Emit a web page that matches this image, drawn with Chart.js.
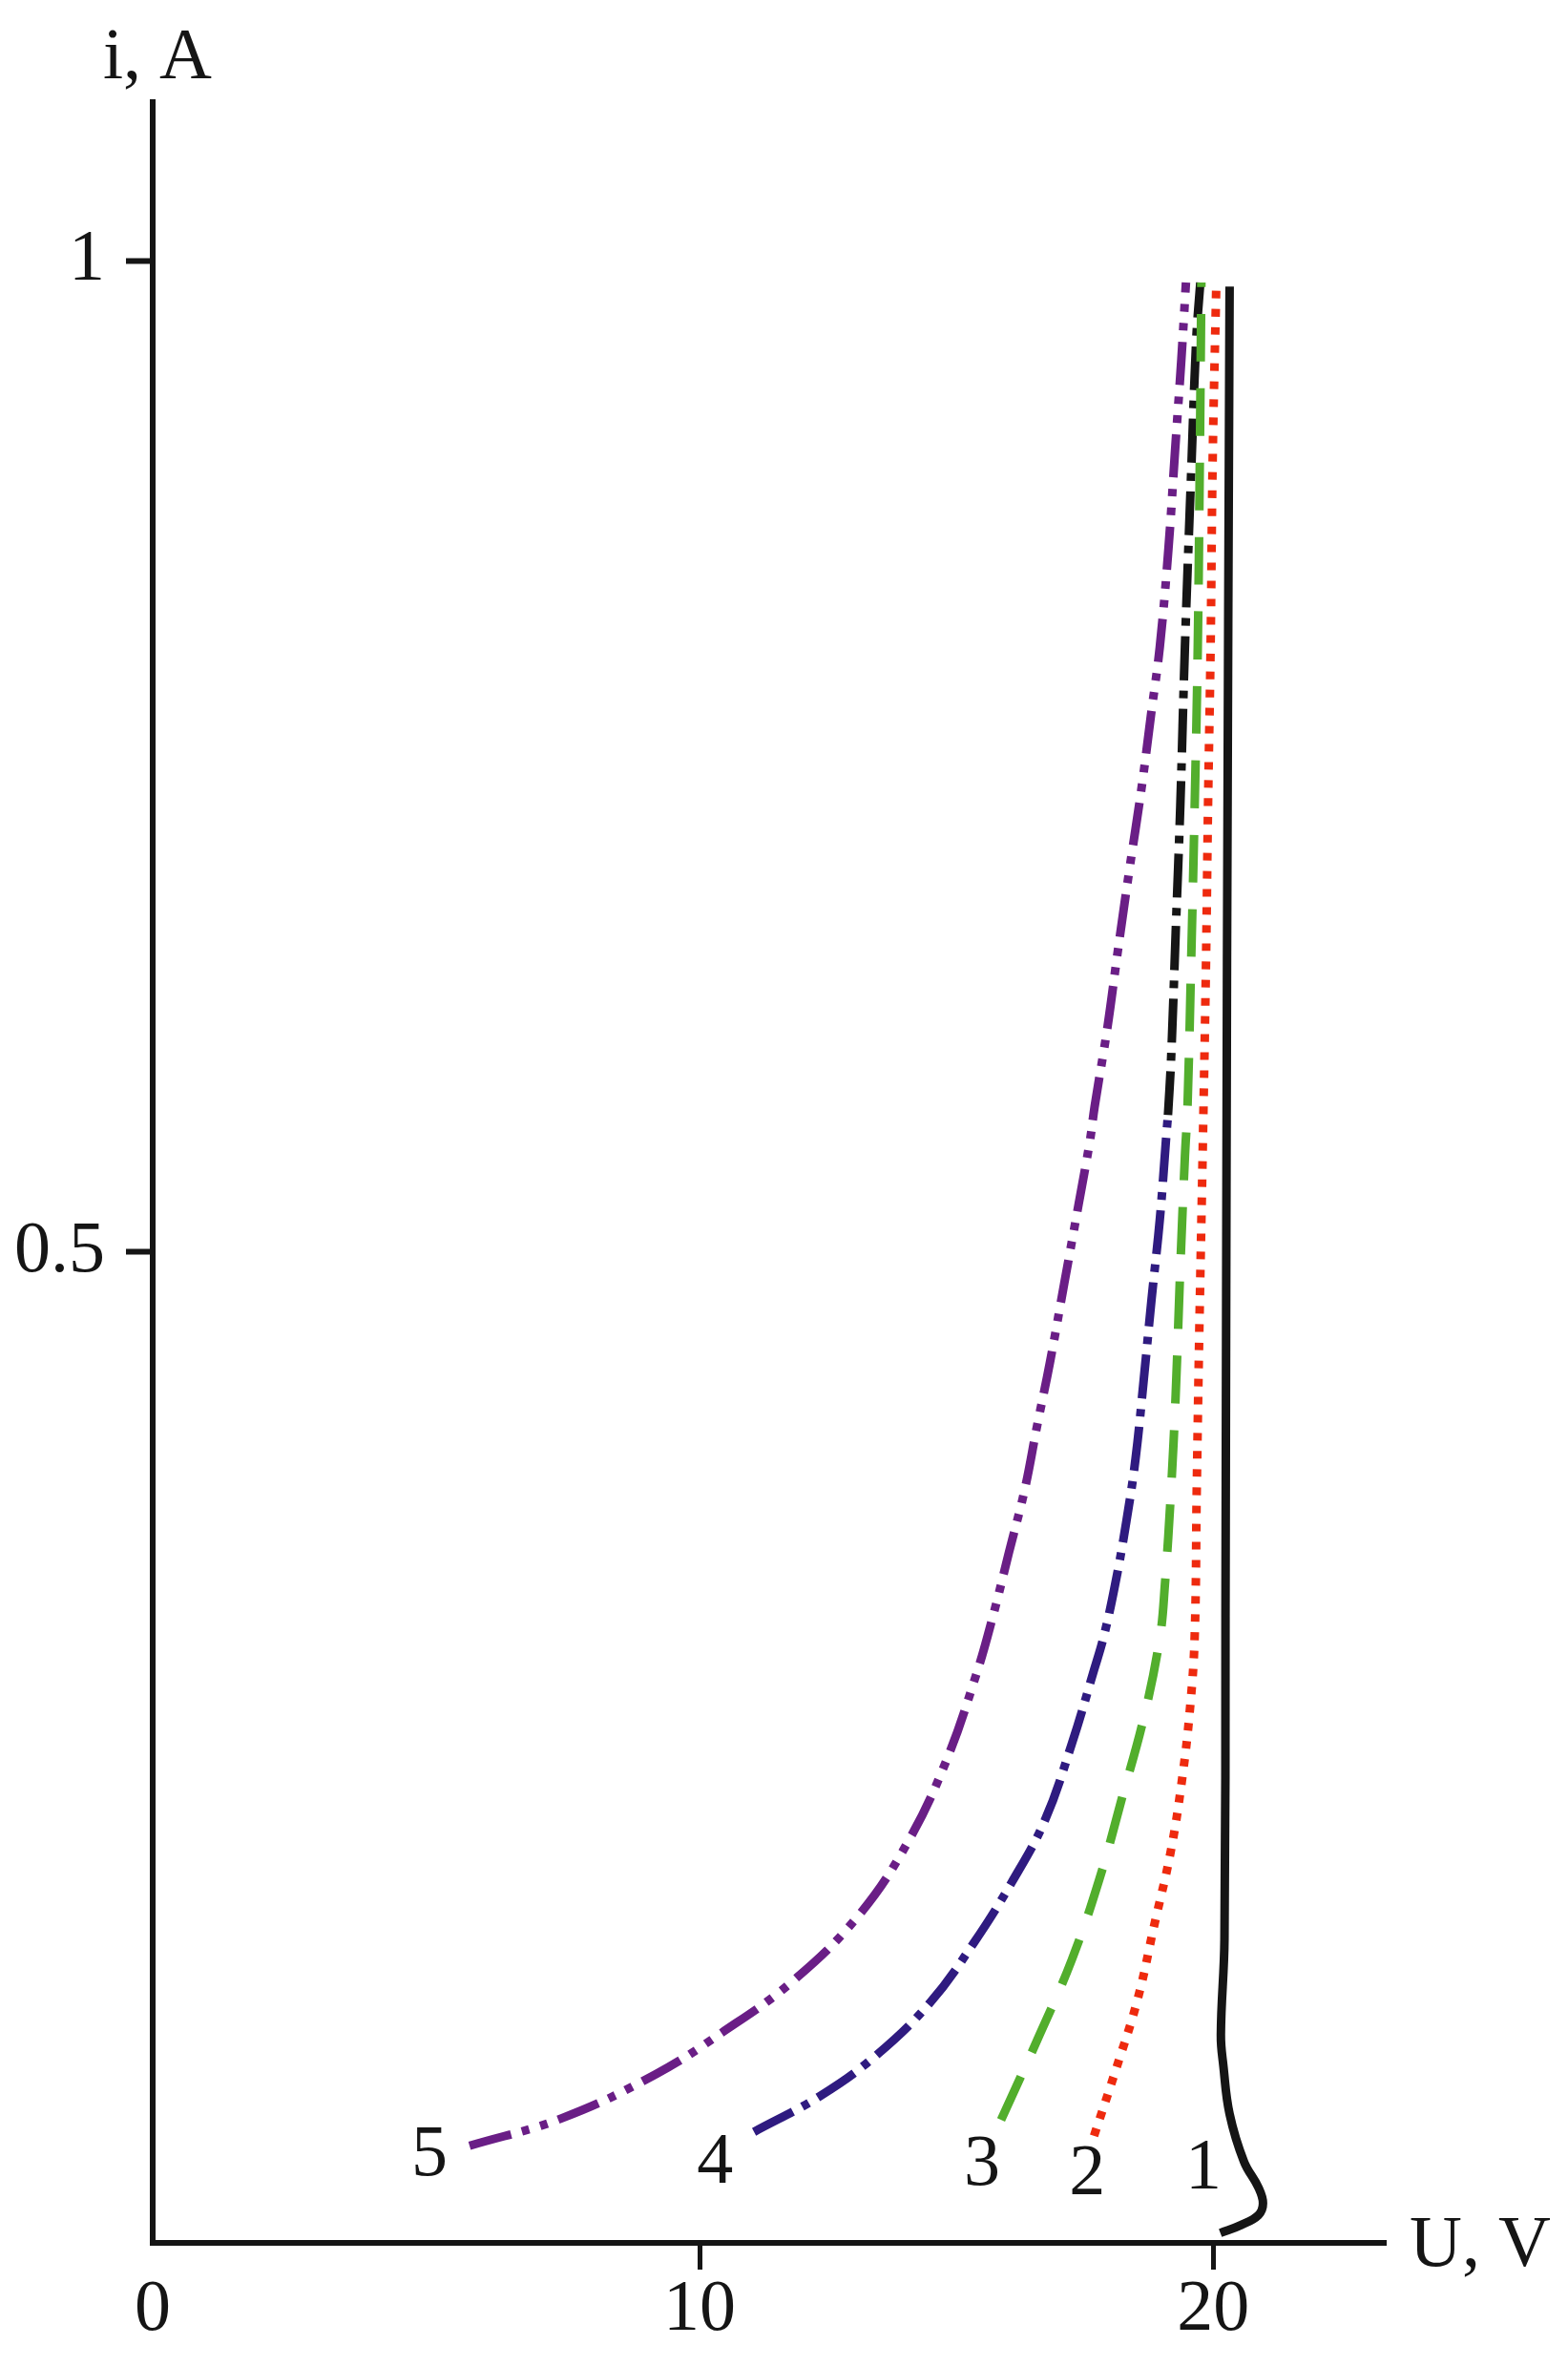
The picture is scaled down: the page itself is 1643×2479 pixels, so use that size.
<!DOCTYPE html>
<html>
<head>
<meta charset="utf-8">
<script src="https://cdn.jsdelivr.net/npm/chart.js@4.4.1/dist/chart.umd.min.js"></script>
<style>
  html, body { margin: 0; padding: 0; background: #fff; }
  #wrap { width: 1643px; height: 2479px; }
</style>
</head>
<body>
<div id="wrap"><canvas id="chart" width="1643" height="2479"></canvas></div>
<script>
// axis ranges (V, A)
const U_MIN = -0.65;
const U_MAX = 23.36;
const I_MIN = 0;
const I_MAX = 1.08;

const uTicks = [U_MIN, 10, 20];
const uTickLabels = ['0', '10', '20'];
const iTicks = [0.5, 1];
const iTickLabels = ['0.5', '1'];

// curve 1 - solid black
const u1 = [20.32, 20.27, 20.24, 20.22, 20.15, 20.20, 20.32, 20.60, 20.88, 20.97, 20.88, 20.54, 20.14];
const i1 = [0.987, 0.650, 0.316, 0.153, 0.105, 0.089, 0.065, 0.041, 0.028, 0.020, 0.014, 0.009, 0.005];

// curve 2 - red dotted
const u2 = [17.68, 18.10, 18.53, 18.85, 19.17, 19.39, 19.55, 19.64, 19.68, 19.73, 19.80, 19.86, 19.90, 19.95, 19.99, 20.06];
const i2 = [0.054, 0.087, 0.123, 0.160, 0.197, 0.233, 0.270, 0.306, 0.380, 0.460, 0.556, 0.645, 0.725, 0.805, 0.899, 0.987];

// curve 3 - green dashed
const u3 = [15.87, 16.62, 17.25, 17.79, 18.22, 18.65, 18.96, 19.06, 19.18, 19.27, 19.36, 19.45, 19.50, 19.57, 19.64, 19.70, 19.74, 19.77];
const i3 = [0.062, 0.105, 0.143, 0.184, 0.224, 0.265, 0.305, 0.332, 0.380, 0.428, 0.492, 0.548, 0.573, 0.645, 0.725, 0.805, 0.900, 0.989];

// curve 4 - dash-dot, blue below, black above
const u4low = [11.06, 12.34, 13.41, 14.48, 15.33, 16.08, 16.72, 17.25, 17.68, 17.87, 18.09, 18.31, 18.49, 18.65, 18.80, 18.96, 19.08, 19.12];
const i4low = [0.056, 0.074, 0.094, 0.121, 0.151, 0.182, 0.213, 0.252, 0.289, 0.306, 0.332, 0.364, 0.396, 0.436, 0.476, 0.516, 0.556, 0.569];
const u4high = [19.12, 19.18, 19.27, 19.36, 19.45, 19.58, 19.67, 19.75];
const i4high = [0.569, 0.597, 0.661, 0.725, 0.805, 0.899, 0.960, 0.989];

// curve 5 - purple dash-dot-dot
const u5 = [5.52, 7.33, 9.14, 10.43, 11.81, 13.09, 14.05, 14.80, 15.39, 15.71, 16.02, 16.33, 16.57, 16.82, 17.10, 17.38, 17.60, 17.69, 17.94, 18.15, 18.37, 18.60, 18.80, 18.96, 19.13, 19.26, 19.38, 19.47];
const i5 = [0.049, 0.063, 0.085, 0.106, 0.132, 0.165, 0.202, 0.243, 0.287, 0.316, 0.348, 0.380, 0.412, 0.444, 0.484, 0.524, 0.556, 0.573, 0.613, 0.653, 0.693, 0.733, 0.773, 0.805, 0.855, 0.905, 0.950, 0.989];

// curve numbers and where they sit (V, A)
const curveNames = ['5', '4', '3', '2', '1'];
const nameU = [4.74, 10.30, 15.50, 17.55, 19.81];
const nameI = [0.044, 0.040, 0.039, 0.034, 0.037];

const FONT = '"Liberation Serif", "Times New Roman", serif';
const INK = '#151515';

function pts(us, is) {
    return us.map((u, k) => ({ x: u, y: is[k] }));
}

function curve(us, is, color, dash) {
    return {
        data: pts(us, is),
        borderColor: color,
        borderWidth: 9,
        borderDash: dash,
        borderCapStyle: 'butt',
        pointRadius: 0,
        tension: 0.4,
        fill: false
    };
}

const textPlugin = {
    id: 'textPlugin',
    afterDraw(chart) {
        const { ctx, chartArea, scales } = chart;
        ctx.save();
        ctx.fillStyle = INK;
        ctx.font = '76px ' + FONT;
        ctx.textBaseline = 'middle';
        ctx.textAlign = 'center';
        curveNames.forEach((n, k) => {
            ctx.fillText(n, scales.x.getPixelForValue(nameU[k]), scales.y.getPixelForValue(nameI[k]));
        });
        // axis titles
        ctx.textBaseline = 'alphabetic';
        ctx.textAlign = 'center';
        ctx.fillText('i, A', chartArea.left + 5, chartArea.top - 25);
        ctx.textAlign = 'left';
        ctx.textBaseline = 'middle';
        ctx.fillText('U, V', chartArea.right + 25, chartArea.bottom + 4);
        ctx.restore();
    }
};

new Chart(document.getElementById('chart'), {
    type: 'line',
    data: {
        datasets: [
            curve(u1, i1, INK, []),
            curve(u2, i2, '#ee2a0e', [8, 11]),
            curve(u3, i3, '#52ae2c', [50, 28]),
            curve(u4low, i4low, '#2f1b80', [46, 11, 8, 11]),
            curve(u4high, i4high, INK, [46, 11, 8, 11]),
            curve(u5, i5, '#6a1e86', [45, 12, 8, 12, 8, 12])
        ]
    },
    options: {
        responsive: false,
        devicePixelRatio: 1,
        animation: false,
        layout: { padding: { left: 0, top: 107, right: 191, bottom: 29 } },
        plugins: {
            legend: { display: false },
            tooltip: { enabled: false }
        },
        scales: {
            x: {
                type: 'linear',
                min: U_MIN,
                max: U_MAX,
                afterBuildTicks: s => { s.ticks = uTicks.map(v => ({ value: v })); },
                afterFit: s => { s.height = 100; },
                ticks: {
                    autoSkip: false,
                    maxRotation: 0,
                    padding: -3,
                    color: INK,
                    font: { family: FONT, size: 76 },
                    callback: (v, idx) => uTickLabels[idx]
                },
                grid: {
                    drawOnChartArea: false,
                    drawTicks: true,
                    tickLength: 28,
                    tickWidth: 5,
                    tickColor: c => (c.tick && c.tick.value === U_MIN ? 'rgba(0,0,0,0)' : INK)
                },
                border: { display: true, color: INK, width: 6 }
            },
            y: {
                type: 'linear',
                min: I_MIN,
                max: I_MAX,
                afterBuildTicks: s => { s.ticks = iTicks.map(v => ({ value: v })); },
                afterFit: s => { s.width = 160; },
                ticks: {
                    autoSkip: false,
                    padding: 22,
                    color: INK,
                    font: { family: FONT, size: 76 },
                    callback: (v, idx) => iTickLabels[idx]
                },
                grid: {
                    drawOnChartArea: false,
                    drawTicks: true,
                    tickLength: 28,
                    tickWidth: 6,
                    tickColor: INK
                },
                border: { display: true, color: INK, width: 6 }
            }
        }
    },
    plugins: [textPlugin]
});
</script>
</body>
</html>
